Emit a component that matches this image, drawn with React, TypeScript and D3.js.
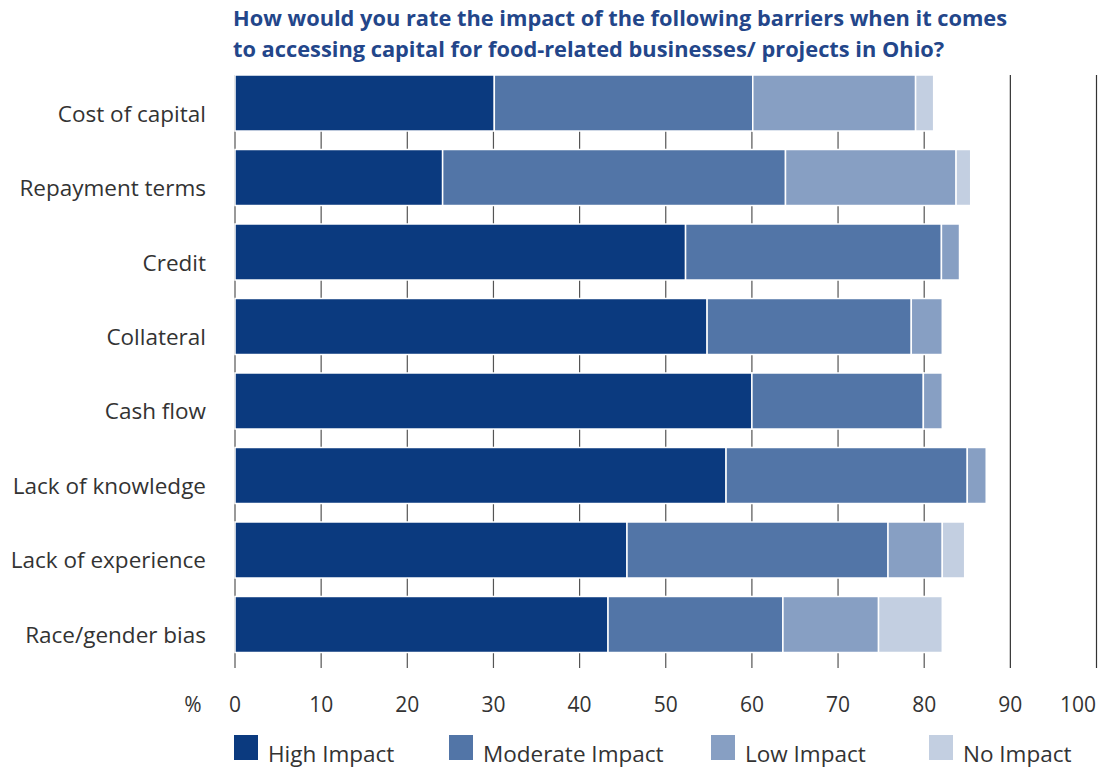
import React from "react";
import * as d3 from "d3";

const categories = [
  "Cost of capital",
  "Repayment terms",
  "Credit",
  "Collateral",
  "Cash flow",
  "Lack of knowledge",
  "Lack of experience",
  "Race/gender bias",
];
const seriesNames = ["High Impact", "Moderate Impact", "Low Impact", "No Impact"];
const highImpact = [30.1, 24.1, 52.3, 54.8, 60.0, 57.0, 45.5, 43.3];
const moderateImpact = [30.0, 39.8, 29.7, 23.7, 19.9, 28.0, 30.3, 20.3];
const lowImpact = [18.9, 19.8, 2.1, 3.6, 2.2, 2.2, 6.3, 11.1];
const noImpact = [2.1, 1.7, 0, 0, 0, 0, 2.6, 7.4];
const xTicks = [0, 10, 20, 30, 40, 50, 60, 70, 80, 90, 100];
const titleLines = [
  "How would you rate the impact of the following barriers when it comes",
  "to accessing capital for food-related businesses/ projects in Ohio?",
];
const colors = ["#0B3A7F", "#5275A7", "#879FC3", "#C3CFE1"];

export default function App() {
  const W = 1101;
  const H = 770;
  const font = "'Open Sans', 'Noto Sans', sans-serif";
  const x = d3.scaleLinear().domain([0, 100]).range([235, 1096.5]);
  const y = d3
    .scaleBand<string>()
    .domain(categories)
    .range([75, 652.5])
    .paddingInner(0.248)
    .paddingOuter(0);

  const rows = categories.map((c, i) => ({
    cat: c,
    "High Impact": highImpact[i],
    "Moderate Impact": moderateImpact[i],
    "Low Impact": lowImpact[i],
    "No Impact": noImpact[i],
  }));
  const stacked = d3.stack<any>().keys(seriesNames)(rows);
  const color = d3.scaleOrdinal<string, string>().domain(seriesNames).range(colors);

  const legendX = [234, 449, 711, 929];

  return (
    <svg
      width={W}
      height={H}
      style={{ position: "absolute", left: 0, top: 0, background: "#fff" }}
      fontFamily={font}
    >
      {titleLines.map((t, i) => (
        <text
          key={i}
          x={233}
          y={26 + i * 31}
          fontSize={21.8}
          fontWeight={700}
          fill="#23468A"
        >
          {t}
        </text>
      ))}
      {/* gridlines */}
      {xTicks.map((t) => (
        <line
          key={t}
          x1={x(t)}
          x2={x(t)}
          y1={75}
          y2={668}
          stroke={t >= 90 ? "#333" : "#555"}
          strokeWidth={1.2}
        />
      ))}
      {/* bars */}
      {stacked.map((s) => (
        <g key={s.key} fill={color(s.key)}>
          {s.map((d, i) =>
            d[1] - d[0] > 0 ? (
              <rect
                key={i}
                x={x(d[0])}
                y={y(categories[i])!}
                width={x(d[1]) - x(d[0])}
                height={y.bandwidth()}
                stroke="#fff"
                strokeWidth={1.5}
              />
            ) : null
          )}
        </g>
      ))}
      {/* category labels */}
      {categories.map((c) => (
        <text
          key={c}
          x={206}
          y={y(c)! + y.bandwidth() / 2 + 18.5}
          textAnchor="end"
          fontSize={22.5}
          fill="#333"
        >
          {c}
        </text>
      ))}
      {/* x axis labels */}
      <text x={193} y={712} textAnchor="middle" fontSize={21} fill="#333">
        %
      </text>
      {xTicks.map((t) => (
        <text
          key={t}
          x={t === 100 ? 1096 : x(t)}
          y={712}
          textAnchor={t === 100 ? "end" : "middle"}
          fontSize={21}
          fill="#333"
        >
          {t}
        </text>
      ))}
      {/* legend */}
      {seriesNames.map((n, i) => (
        <g key={n}>
          <rect x={legendX[i]} y={735} width={24} height={25} fill={color(n)} />
          <text x={legendX[i] + 34} y={762} fontSize={22.5} fill="#333">
            {n}
          </text>
        </g>
      ))}
    </svg>
  );
}
